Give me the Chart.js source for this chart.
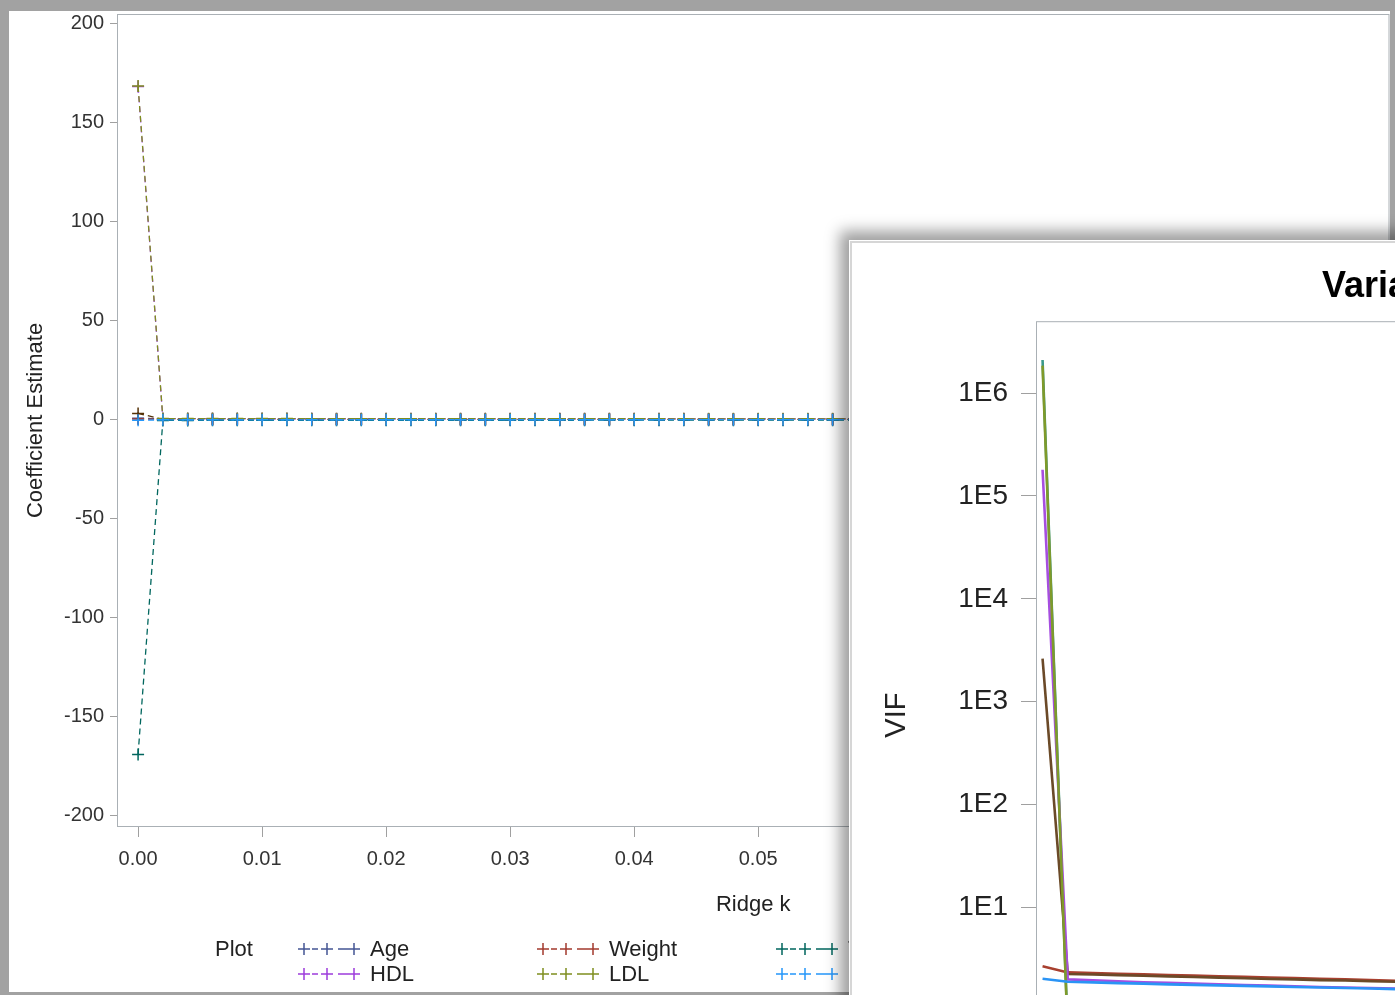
<!DOCTYPE html>
<html>
<head>
<meta charset="utf-8">
<title>Ridge trace and VIF</title>
<script src="https://cdn.jsdelivr.net/npm/chart.js@4.4.1/dist/chart.umd.min.js"></script>
<style>
  html, body { margin: 0; padding: 0; }
  body { width: 1395px; height: 995px; overflow: hidden; background: #a2a2a2; position: relative; }
  #traceWin { position: absolute; left: 9px; top: 11px; width: 1381px; height: 981px; background: #fff; overflow: hidden; }
  #vifWin { position: absolute; left: 849px; top: 240px; width: 1420px; height: 980px; background: #fff;
            border-top: 1px solid #fff; border-left: 1px solid #fff; box-shadow: 0 0 14px 9px rgba(0,0,0,0.38); }
  #vifInner { position: absolute; left: 0; top: 0; right: 0; bottom: 0; border-top: 2px solid #d6d6d6; border-left: 2px solid #d6d6d6; }
  canvas { display: block; }
</style>
</head>
<body>
<div id="traceWin"><canvas id="traceChart" width="1381" height="981"></canvas></div>
<div id="vifWin"><div id="vifInner"><canvas id="vifChart" width="1392" height="967"></canvas></div></div>
<script>
// ridge constants
const ridgeK = [
  0, 0.002, 0.004, 0.006, 0.008, 0.010, 0.012, 0.014, 0.016, 0.018,
  0.020, 0.022, 0.024, 0.026, 0.028, 0.030, 0.032, 0.034, 0.036, 0.038,
  0.040, 0.042, 0.044, 0.046, 0.048, 0.050, 0.052, 0.054, 0.056, 0.058,
  0.060, 0.062, 0.064, 0.066, 0.068, 0.070, 0.072, 0.074, 0.076, 0.078,
  0.080, 0.082, 0.084, 0.086, 0.088, 0.090, 0.092, 0.094, 0.096, 0.098,
  0.100
];
const seriesNames = ['Age', 'Weight', 'TotChol', 'Trig', 'HDL', 'LDL', 'BMI'];
const seriesColors = ['#445694', '#a23a2e', '#01665e', '#543005', '#9d3cdb', '#7f8e1f', '#2597fa'];
const vifColors = ['#445694', '#a8402f', '#3a9a8c', '#6b4a28', '#a64ee0', '#7f9a2a', '#2a94f5'];

const xTickValues = [0, 0.01, 0.02, 0.03, 0.04, 0.05, 0.06, 0.07, 0.08, 0.09, 0.10];
const coefTickValues = [-200, -150, -100, -50, 0, 50, 100, 150, 200];
const vifTickValues = [1, 10, 100, 1000, 10000, 100000, 1000000];
const vifTickLabels = ['1E0', '1E1', '1E2', '1E3', '1E4', '1E5', '1E6'];

// coefficient estimates
const coefAge = [
  0.60, 0.36, 0.35, 0.35, 0.34, 0.34, 0.33, 0.33, 0.32, 0.32,
  0.31, 0.31, 0.31, 0.30, 0.30, 0.30, 0.29, 0.29, 0.29, 0.28,
  0.28, 0.28, 0.27, 0.27, 0.27, 0.27, 0.26, 0.26, 0.26, 0.26,
  0.25, 0.25, 0.25, 0.25, 0.24, 0.24, 0.24, 0.24, 0.23, 0.23,
  0.23, 0.23, 0.23, 0.22, 0.22, 0.22, 0.22, 0.22, 0.21, 0.21,
  0.21
];
const coefWeight = [
  0.20, 0.12, 0.12, 0.11, 0.11, 0.11, 0.11, 0.10, 0.10, 0.10,
  0.10, 0.10, 0.09, 0.09, 0.09, 0.09, 0.09, 0.09, 0.08, 0.08,
  0.08, 0.08, 0.08, 0.08, 0.08, 0.07, 0.07, 0.07, 0.07, 0.07,
  0.07, 0.07, 0.07, 0.06, 0.06, 0.06, 0.06, 0.06, 0.06, 0.06,
  0.06, 0.06, 0.06, 0.05, 0.05, 0.05, 0.05, 0.05, 0.05, 0.05,
  0.05
];
const coefChol = [
  -169.3, -0.45, -0.44, -0.43, -0.43, -0.42, -0.42, -0.41, -0.41, -0.40,
  -0.40, -0.39, -0.39, -0.38, -0.38, -0.38, -0.37, -0.37, -0.36, -0.36,
  -0.36, -0.35, -0.35, -0.35, -0.34, -0.34, -0.34, -0.33, -0.33, -0.33,
  -0.33, -0.32, -0.32, -0.32, -0.31, -0.31, -0.31, -0.31, -0.30, -0.30,
  -0.30, -0.30, -0.29, -0.29, -0.29, -0.29, -0.28, -0.28, -0.28, -0.28,
  -0.28
];
const coefTrig = [
  3.10, 0.09, 0.09, 0.08, 0.08, 0.08, 0.08, 0.07, 0.07, 0.07,
  0.07, 0.07, 0.06, 0.06, 0.06, 0.06, 0.06, 0.06, 0.05, 0.05,
  0.05, 0.05, 0.05, 0.05, 0.05, 0.05, 0.04, 0.04, 0.04, 0.04,
  0.04, 0.04, 0.04, 0.04, 0.04, 0.03, 0.03, 0.03, 0.03, 0.03,
  0.03, 0.03, 0.03, 0.03, 0.03, 0.03, 0.03, 0.02, 0.02, 0.02,
  0.02
];
const coefHDL = [
  168.3, 0.42, 0.41, 0.41, 0.40, 0.40, 0.39, 0.39, 0.38, 0.38,
  0.37, 0.37, 0.36, 0.36, 0.36, 0.35, 0.35, 0.34, 0.34, 0.34,
  0.33, 0.33, 0.33, 0.32, 0.32, 0.32, 0.31, 0.31, 0.31, 0.30,
  0.30, 0.30, 0.30, 0.29, 0.29, 0.29, 0.29, 0.28, 0.28, 0.28,
  0.28, 0.27, 0.27, 0.27, 0.27, 0.26, 0.26, 0.26, 0.26, 0.26,
  0.25
];
const coefLDL = [
  168.6, 0.48, 0.47, 0.46, 0.46, 0.45, 0.45, 0.44, 0.43, 0.43,
  0.42, 0.42, 0.41, 0.41, 0.40, 0.40, 0.39, 0.39, 0.38, 0.38,
  0.38, 0.37, 0.37, 0.36, 0.36, 0.36, 0.35, 0.35, 0.35, 0.34,
  0.34, 0.34, 0.33, 0.33, 0.33, 0.32, 0.32, 0.32, 0.32, 0.31,
  0.31, 0.31, 0.31, 0.30, 0.30, 0.30, 0.30, 0.29, 0.29, 0.29,
  0.29
];
const coefBMI = [
  -0.40, -0.16, -0.16, -0.15, -0.15, -0.15, -0.14, -0.14, -0.14, -0.13,
  -0.13, -0.13, -0.13, -0.12, -0.12, -0.12, -0.12, -0.11, -0.11, -0.11,
  -0.11, -0.11, -0.10, -0.10, -0.10, -0.10, -0.10, -0.09, -0.09, -0.09,
  -0.09, -0.09, -0.09, -0.08, -0.08, -0.08, -0.08, -0.08, -0.08, -0.08,
  -0.07, -0.07, -0.07, -0.07, -0.07, -0.07, -0.07, -0.07, -0.06, -0.06,
  -0.06
];

// variance inflation factors
const vifAge = [
  1.20, 1.16, 1.15, 1.15, 1.14, 1.14, 1.13, 1.13, 1.12, 1.12,
  1.11, 1.11, 1.10, 1.10, 1.10, 1.09, 1.09, 1.08, 1.08, 1.08,
  1.07, 1.07, 1.07, 1.06, 1.06, 1.06, 1.05, 1.05, 1.05, 1.04,
  1.04, 1.04, 1.04, 1.03, 1.03, 1.03, 1.02, 1.02, 1.02, 1.02,
  1.01, 1.01, 1.01, 1.01, 1.00, 1.00, 1.00, 1.00, 0.99, 0.99,
  0.99
];
const vifWeight = [
  2.68, 2.34, 2.31, 2.27, 2.24, 2.21, 2.18, 2.15, 2.12, 2.09,
  2.06, 2.03, 2.00, 1.97, 1.94, 1.92, 1.89, 1.87, 1.85, 1.83,
  1.81, 1.79, 1.77, 1.75, 1.73, 1.72, 1.70, 1.69, 1.67, 1.66,
  1.64, 1.63, 1.62, 1.60, 1.59, 1.58, 1.57, 1.56, 1.55, 1.54,
  1.53, 1.52, 1.51, 1.50, 1.49, 1.48, 1.47, 1.46, 1.46, 1.45,
  1.44
];
const vifChol = [
  2100000, 0.62, 0.58, 0.55, 0.52, 0.50, 0.48, 0.46, 0.44, 0.43,
  0.41, 0.40, 0.39, 0.38, 0.37, 0.36, 0.35, 0.34, 0.33, 0.32,
  0.32, 0.31, 0.30, 0.30, 0.29, 0.28, 0.28, 0.27, 0.27, 0.26,
  0.26, 0.25, 0.25, 0.25, 0.24, 0.24, 0.23, 0.23, 0.23, 0.22,
  0.22, 0.22, 0.21, 0.21, 0.21, 0.20, 0.20, 0.20, 0.20, 0.19,
  0.19
];
const vifTrig = [
  2620, 2.26, 2.23, 2.20, 2.17, 2.14, 2.11, 2.08, 2.05, 2.02,
  2.00, 1.97, 1.95, 1.92, 1.90, 1.88, 1.86, 1.84, 1.82, 1.80,
  1.78, 1.76, 1.75, 1.73, 1.71, 1.70, 1.68, 1.67, 1.66, 1.64,
  1.63, 1.62, 1.61, 1.59, 1.58, 1.57, 1.56, 1.55, 1.54, 1.53,
  1.52, 1.51, 1.50, 1.50, 1.49, 1.48, 1.47, 1.46, 1.46, 1.45,
  1.44
];
const vifHDL = [
  180000, 2.00, 1.96, 1.92, 1.88, 1.85, 1.82, 1.79, 1.76, 1.74,
  1.71, 1.69, 1.67, 1.65, 1.63, 1.61, 1.59, 1.57, 1.56, 1.54,
  1.53, 1.51, 1.50, 1.48, 1.47, 1.46, 1.45, 1.43, 1.42, 1.41,
  1.40, 1.39, 1.38, 1.37, 1.36, 1.35, 1.35, 1.34, 1.33, 1.32,
  1.31, 1.31, 1.30, 1.29, 1.29, 1.28, 1.27, 1.27, 1.26, 1.26,
  1.25
];
const vifLDL = [
  1850000, 0.58, 0.54, 0.51, 0.49, 0.47, 0.45, 0.43, 0.42, 0.40,
  0.39, 0.38, 0.37, 0.36, 0.35, 0.34, 0.33, 0.32, 0.31, 0.31,
  0.30, 0.29, 0.29, 0.28, 0.27, 0.27, 0.26, 0.26, 0.25, 0.25,
  0.24, 0.24, 0.23, 0.23, 0.23, 0.22, 0.22, 0.22, 0.21, 0.21,
  0.21, 0.20, 0.20, 0.20, 0.19, 0.19, 0.19, 0.19, 0.18, 0.18,
  0.18
];
const vifBMI = [
  2.03, 1.90, 1.87, 1.84, 1.82, 1.79, 1.77, 1.75, 1.73, 1.71,
  1.69, 1.67, 1.65, 1.63, 1.61, 1.60, 1.58, 1.57, 1.55, 1.54,
  1.52, 1.51, 1.50, 1.49, 1.47, 1.46, 1.45, 1.44, 1.43, 1.42,
  1.41, 1.40, 1.39, 1.38, 1.37, 1.37, 1.36, 1.35, 1.34, 1.34,
  1.33, 1.32, 1.31, 1.31, 1.30, 1.30, 1.29, 1.28, 1.28, 1.27,
  1.27
];

const coefSeries = [coefAge, coefWeight, coefChol, coefTrig, coefHDL, coefLDL, coefBMI];
const vifSeries = [vifAge, vifWeight, vifChol, vifTrig, vifHDL, vifLDL, vifBMI];

const FONT = '"Liberation Sans", Arial, sans-serif';
Chart.defaults.font.family = FONT;
Chart.defaults.color = '#333';

function toPoints(values) {
  return ridgeK.map((k, j) => ({ x: k, y: values[j] }));
}

// gray frame round the plot area
const framePlugin = {
  id: 'frame',
  beforeDatasetsDraw(chart) {
    const { ctx, chartArea: a } = chart;
    ctx.save();
    ctx.strokeStyle = '#aab0b5';
    ctx.lineWidth = 1;
    ctx.strokeRect(a.left + 0.5, a.top + 0.5, a.right - a.left - 1, a.bottom - a.top - 1);
    ctx.restore();
  }
};

// SAS style legend: "Plot" then rows of four entries
const plotLegend = {
  id: 'plotLegend',
  afterDraw(chart) {
    const ctx = chart.ctx;
    ctx.save();
    ctx.font = '22px ' + FONT;
    ctx.textBaseline = 'middle';
    ctx.fillStyle = '#222';
    ctx.fillText('Plot', 206, 939);
    chart.data.datasets.forEach((ds, i) => {
      const x0 = 289 + 239 * (i % 4);
      const y = 938 + 25 * Math.floor(i / 4);
      ctx.strokeStyle = ds.borderColor;
      ctx.lineWidth = 1.5;
      ctx.beginPath();
      [6, 29, 56].forEach(cx => {
        ctx.moveTo(x0 + cx - 6, y); ctx.lineTo(x0 + cx + 6, y);
        ctx.moveTo(x0 + cx, y - 6); ctx.lineTo(x0 + cx, y + 6);
      });
      ctx.moveTo(x0 + 14, y); ctx.lineTo(x0 + 20, y);
      ctx.moveTo(x0 + 40, y); ctx.lineTo(x0 + 51, y);
      ctx.stroke();
      ctx.fillStyle = '#222';
      ctx.fillText(ds.label, x0 + 72, y + 1);
    });
    ctx.restore();
  }
};

function noPad(s) {
  s.paddingTop = 0; s.paddingBottom = 0; s.paddingLeft = 0; s.paddingRight = 0;
}

// left window: ridge trace
new Chart(document.getElementById('traceChart'), {
  type: 'line',
  data: {
    datasets: coefSeries.map((vals, i) => ({
      label: seriesNames[i],
      data: toPoints(vals),
      borderColor: seriesColors[i],
      backgroundColor: seriesColors[i],
      borderWidth: 1.3,
      borderDash: [6, 4],
      pointStyle: 'cross',
      pointRadius: 6,
      pointBorderWidth: 1.5,
      pointBorderColor: seriesColors[i],
      fill: false,
      tension: 0,
      order: 6 - i
    }))
  },
  options: {
    responsive: false,
    animation: false,
    events: [],
    layout: { autoPadding: false, padding: { top: 3, right: 0.5, left: 0, bottom: 70 } },
    plugins: { legend: { display: false }, tooltip: { enabled: false } },
    scales: {
      x: {
        type: 'linear',
        min: -0.0017,
        max: 0.1009,
        afterBuildTicks: s => { s.ticks = xTickValues.map(v => ({ value: v })); },
        afterFit: s => { s.height = 95; noPad(s); },
        border: { display: false },
        grid: { drawOnChartArea: false, drawTicks: true, tickLength: 10, color: '#a0a0a0' },
        ticks: { padding: 10, maxRotation: 0, autoSkip: false, font: { size: 20 }, color: '#333',
                 callback: v => v.toFixed(2) },
        title: { display: true, text: 'Ridge k', font: { size: 22 }, color: '#222', padding: { top: 4, bottom: 4 } }
      },
      y: {
        min: -206,
        max: 205,
        afterBuildTicks: s => { s.ticks = coefTickValues.map(v => ({ value: v })); },
        afterFit: s => { s.width = 108; noPad(s); },
        border: { display: false },
        grid: { drawOnChartArea: false, drawTicks: true, tickLength: 7, color: '#a0a0a0' },
        ticks: { padding: 6, font: { size: 20 }, color: '#333' },
        title: { display: true, text: 'Coefficient Estimate', font: { size: 22 }, color: '#222', padding: { top: 14, bottom: 0 } }
      }
    }
  },
  plugins: [framePlugin, plotLegend]
});

// overlapping window: variance inflation factors
new Chart(document.getElementById('vifChart'), {
  type: 'line',
  data: {
    datasets: vifSeries.map((vals, i) => ({
      label: seriesNames[i],
      data: toPoints(vals),
      borderColor: vifColors[i],
      backgroundColor: vifColors[i],
      borderWidth: 2.6,
      pointRadius: 0,
      fill: false,
      tension: 0,
      order: 6 - i
    }))
  },
  options: {
    responsive: false,
    animation: false,
    events: [],
    layout: { padding: { top: 0, right: 14, left: 0, bottom: 0 } },
    plugins: {
      legend: { display: false },
      tooltip: { enabled: false },
      title: { display: true, text: 'Variance Inflation Factors', color: '#000',
               font: { size: 36, weight: 'bold' }, padding: { top: 22, bottom: 13 } }
    },
    scales: {
      x: {
        type: 'linear',
        min: -0.00052,
        max: 0.0942,
        afterBuildTicks: s => { s.ticks = xTickValues.filter(v => v <= 0.09).map(v => ({ value: v })); },
        afterFit: s => { s.height = 101; noPad(s); },
        border: { display: false },
        grid: { drawOnChartArea: false, drawTicks: true, tickLength: 15, color: '#a0a0a0' },
        ticks: { padding: 12, maxRotation: 0, font: { size: 28 }, color: '#222', callback: v => v.toFixed(2) }
      },
      y: {
        type: 'logarithmic',
        min: 0.11,
        max: 5000000,
        afterBuildTicks: s => { s.ticks = vifTickValues.map(v => ({ value: v })); },
        afterFit: s => { s.width = 184; noPad(s); },
        border: { display: false },
        grid: { drawOnChartArea: false, drawTicks: true, tickLength: 15, color: '#a0a0a0' },
        ticks: { padding: 13, font: { size: 28 }, color: '#222',
                 callback: v => vifTickLabels[vifTickValues.indexOf(v)] },
        title: { display: true, text: 'VIF', font: { size: 29 }, color: '#222', padding: { top: 28, bottom: 0 } }
      }
    }
  },
  plugins: [framePlugin]
});
</script>
</body>
</html>
